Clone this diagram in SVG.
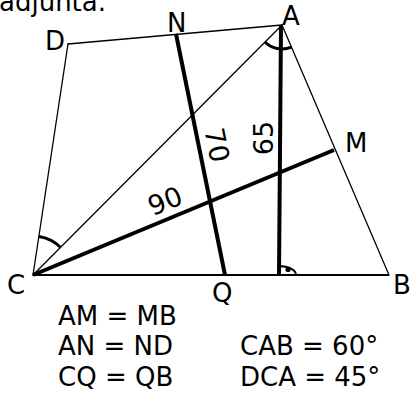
<svg xmlns="http://www.w3.org/2000/svg" width="413" height="396" viewBox="0 0 413 396">
<style>
.thin{stroke:#000;stroke-width:1.3;fill:none;stroke-linecap:round}
.base{stroke:#000;stroke-width:1.8;fill:none}
.thick{stroke:#000;stroke-width:4;fill:none;stroke-linecap:butt}
.arc{stroke:#000;stroke-width:3;fill:none}
text{font-family:"DejaVu Sans","Liberation Sans",sans-serif;font-size:26px;fill:#000}
.num{font-size:27px}
</style>
<rect width="413" height="396" fill="#fff"/>
<text x="-1" y="11">adjunta.</text>
<g id="connectors">
<line class="thin" x1="33" y1="275" x2="68" y2="44"/>
<line class="thin" x1="68" y1="44" x2="282" y2="25"/>
<line class="thin" x1="282" y1="25" x2="389" y2="275"/>
<line class="thin" x1="33" y1="275" x2="282" y2="25"/>
<line class="base" x1="33" y1="275" x2="389" y2="275"/>
<line class="thick" x1="176" y1="34" x2="225" y2="275"/>
<line class="thick" x1="281" y1="25" x2="279" y2="275"/>
<line class="thick" x1="33" y1="275" x2="334" y2="150"/>
<path class="arc" d="M38.9,236.4 A39,39 0 0 1 60.5,247.3"/>
<path class="arc" d="M265,42 A24,24 0 0 0 291.4,47.1"/>
<path class="thin" style="stroke-width:2" d="M279,266 A17,9 0 0 1 296,275"/>
<circle cx="288" cy="269.5" r="2.6" fill="#000"/>
</g>
<g id="labels">
<text class="num" transform="translate(165,201) rotate(-22.5)" text-anchor="middle" dominant-baseline="central">90</text>
<text class="num" transform="translate(217,145) rotate(78.5)" text-anchor="middle" dominant-baseline="central">70</text>
<text class="num" transform="translate(263,138) rotate(-90)" text-anchor="middle" dominant-baseline="central">65</text>
</g>
<g id="node-D"><text x="45" y="50">D</text></g>
<g id="node-N"><text x="167" y="32">N</text></g>
<g id="node-A"><text x="282" y="25">A</text></g>
<g id="node-M"><text x="345" y="152">M</text></g>
<g id="node-C"><text x="7" y="294">C</text></g>
<g id="node-B"><text x="393" y="294">B</text></g>
<g id="node-Q"><text x="212" y="302">Q</text></g>
<g id="equations">
<text x="58" y="325">AM = MB</text>
<text x="58" y="355">AN = ND</text>
<text x="58" y="386">CQ = QB</text>
<text x="240" y="355">CAB = 60°</text>
<text x="240" y="386">DCA = 45°</text>
</g>
</svg>
